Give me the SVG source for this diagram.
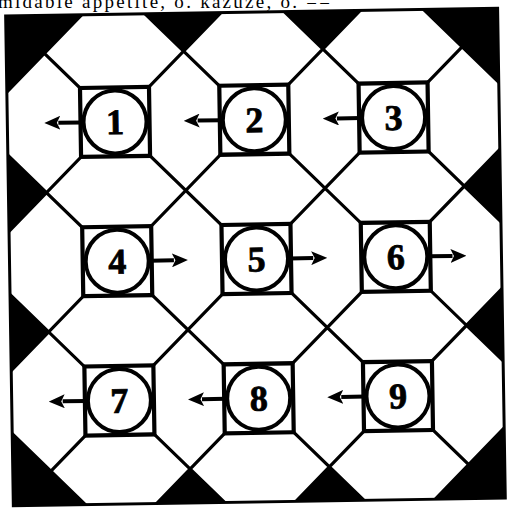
<svg xmlns="http://www.w3.org/2000/svg" width="510" height="509" viewBox="0 0 510 509">
<defs>
<style>
.lat{stroke:#000;stroke-width:3.2;fill:none}
.blk{fill:#000}
.sq{fill:#fff;stroke:#000;stroke-width:4.2}
.ci{fill:#fff;stroke:#000;stroke-width:4}
.num{font-family:"Liberation Serif","DejaVu Serif",serif;font-weight:bold;font-size:36px;text-anchor:middle;fill:#000;stroke:#000;stroke-width:0.8}
.arr{stroke:#000;stroke-width:4;fill:none;marker-end:url(#head)}
.cap{font-family:"Liberation Serif",serif;font-size:19px;fill:#000}
</style>
<clipPath id="fr"><rect x="-247" y="-247" width="492" height="490"/></clipPath>
<marker id="head" markerUnits="userSpaceOnUse" viewBox="0 0 16 14" markerWidth="16" markerHeight="14" refX="2" refY="7" orient="auto">
<path d="M0,0 L16,7 L0,14 L3.5,7 Z" fill="#000"/>
</marker>
</defs>
<rect width="510" height="509" fill="#fff"/>
<text class="cap" x="-2" y="8" textLength="332" lengthAdjust="spacing">midable appetite, o. kazuze, o. ==</text>
<g transform="translate(256.5 259) rotate(-0.9)">
<g id="board" clip-path="url(#fr)">
<rect x="-247" y="-247" width="492" height="490" fill="#fff"/>
<g id="black-triangles" class="blk">
<polygon points="-69.65,-208.95 -169.65,-308.95 30.35,-308.95"/>
<polygon points="69.65,-208.95 -30.35,-308.95 169.65,-308.95"/>
<polygon points="-69.65,208.95 -169.65,308.95 30.35,308.95"/>
<polygon points="69.65,208.95 -30.35,308.95 169.65,308.95"/>
<polygon points="-208.95,-69.65 -308.95,-169.65 -308.95,30.35"/>
<polygon points="-208.95,69.65 -308.95,-30.35 -308.95,169.65"/>
<polygon points="208.95,-69.65 308.95,-169.65 308.95,30.35"/>
<polygon points="208.95,69.65 308.95,-30.35 308.95,169.65"/>
<polygon points="-300,-117.9 -300,-300 -117.9,-300"/>
<polygon points="117.9,-300 300,-300 300,-117.9"/>
<polygon points="300,117.9 300,300 117.9,300"/>
<polygon points="-300,117.9 -300,300 -117.9,300"/>
</g>
<path id="lattice" class="lat" d="M-300,117.9 L300,717.9 M-300,-21.4 L300,578.6 M-300,-160.7 L300,439.3 M-300,-300 L300,300 M-300,-439.3 L300,160.7 M-300,-578.6 L300,21.4 M-300,-717.9 L300,-117.9 M-300,-117.9 L300,-717.9 M-300,21.4 L300,-578.6 M-300,160.7 L300,-439.3 M-300,300 L300,-300 M-300,439.3 L300,-160.7 M-300,578.6 L300,-21.4 M-300,717.9 L300,117.9"/>
</g>
<rect id="frame" x="-247" y="-247" width="492" height="490" fill="none" stroke="#000" stroke-width="3"/>
<g id="node-1"><rect class="sq" x="-173.8" y="-173.8" width="69" height="69"/><circle class="ci" cx="-139.3" cy="-139.3" r="31.5"/><text class="num" x="-139.3" y="-127">1</text></g>
<g id="node-2"><rect class="sq" x="-34.5" y="-173.8" width="69" height="69"/><circle class="ci" cx="0" cy="-139.3" r="31.5"/><text class="num" x="0" y="-127">2</text></g>
<g id="node-3"><rect class="sq" x="104.8" y="-173.8" width="69" height="69"/><circle class="ci" cx="139.3" cy="-139.3" r="31.5"/><text class="num" x="139.3" y="-127">3</text></g>
<g id="node-4"><rect class="sq" x="-173.8" y="-34.5" width="69" height="69"/><circle class="ci" cx="-139.3" cy="0" r="31.5"/><text class="num" x="-139.3" y="12.3">4</text></g>
<g id="node-5"><rect class="sq" x="-34.5" y="-34.5" width="69" height="69"/><circle class="ci" cx="0" cy="0" r="31.5"/><text class="num" x="0" y="12.3">5</text></g>
<g id="node-6"><rect class="sq" x="104.8" y="-34.5" width="69" height="69"/><circle class="ci" cx="139.3" cy="0" r="31.5"/><text class="num" x="139.3" y="12.3">6</text></g>
<g id="node-7"><rect class="sq" x="-173.8" y="104.8" width="69" height="69"/><circle class="ci" cx="-139.3" cy="139.3" r="31.5"/><text class="num" x="-139.3" y="151.6">7</text></g>
<g id="node-8"><rect class="sq" x="-34.5" y="104.8" width="69" height="69"/><circle class="ci" cx="0" cy="139.3" r="31.5"/><text class="num" x="0" y="151.6">8</text></g>
<g id="node-9"><rect class="sq" x="104.8" y="104.8" width="69" height="69"/><circle class="ci" cx="139.3" cy="139.3" r="31.5"/><text class="num" x="139.3" y="151.6">9</text></g>
<g id="connectors">
<line class="arr" x1="-172" y1="-139.3" x2="-196" y2="-139.3"/>
<line class="arr" x1="-32.7" y1="-139.3" x2="-56.7" y2="-139.3"/>
<line class="arr" x1="106.6" y1="-139.3" x2="82.6" y2="-139.3"/>
<line class="arr" x1="-106.6" y1="0" x2="-82.6" y2="0"/>
<line class="arr" x1="32.7" y1="0" x2="56.7" y2="0"/>
<line class="arr" x1="172" y1="0" x2="196" y2="0"/>
<line class="arr" x1="-172" y1="139.3" x2="-196" y2="139.3"/>
<line class="arr" x1="-32.7" y1="139.3" x2="-56.7" y2="139.3"/>
<line class="arr" x1="106.6" y1="139.3" x2="82.6" y2="139.3"/>
</g>
</g>
</svg>
